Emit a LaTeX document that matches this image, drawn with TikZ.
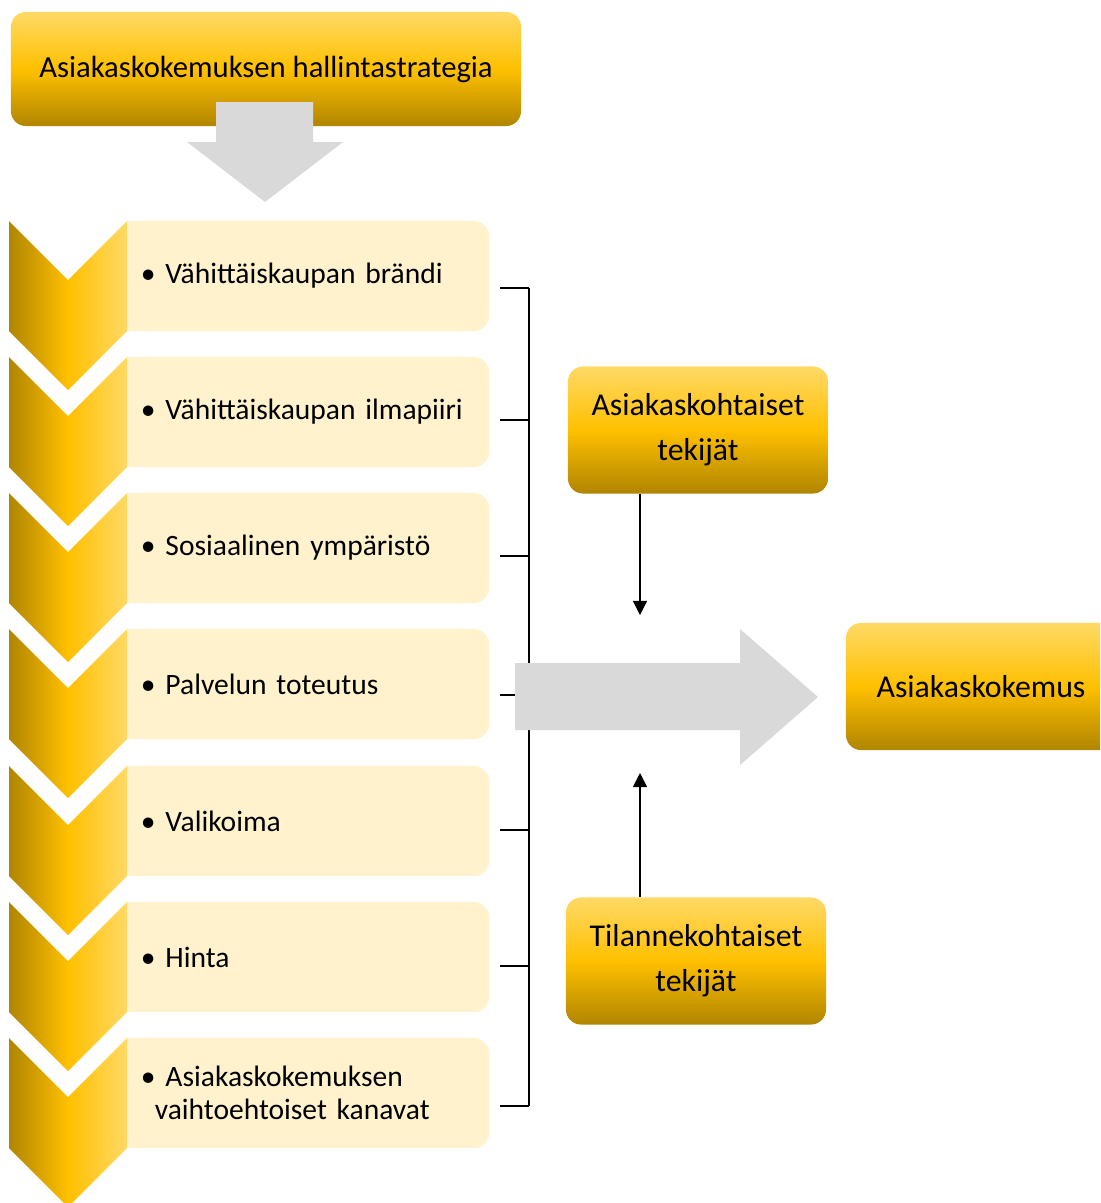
\documentclass[tikz,border=0pt]{standalone}
\usepackage{fontspec}
\setmainfont{Carlito}
\usetikzlibrary{arrows.meta}
\definecolor{goldmid}{HTML}{FFC000}
\definecolor{goldtop}{HTML}{FFD966}
\definecolor{goldbot}{HTML}{B08500}
\definecolor{itemfill}{HTML}{FFF2CC}
\definecolor{arrowgray}{HTML}{D9D9D9}

\begin{document}
\begin{tikzpicture}[x=0.025cm,y=-0.025cm,
  every node/.style={font=\fontsize{21}{23}\selectfont},
  goldbox/.style={rounded corners=0.375cm,top color=goldtop,bottom color=goldbot,middle color=goldmid,
    minimum width=6.5cm,minimum height=3.175cm,align=center,font=\fontsize{22.6}{32}\selectfont},
  itembox/.style={rounded corners=0.375cm,fill=itemfill,minimum width=9.05cm,minimum height=2.75cm,
    text width=8.35cm,inner xsep=0.35cm,align=left},
  conn/.style={line width=1pt},
  tip/.style={line width=0.8pt,-{Triangle[width=10pt,length=10pt]}}]
  \useasboundingbox (0,0) rectangle (1100,1203);
  \clip (0,0) rectangle (1100,1203);

  \node[goldbox,minimum width=12.75cm,minimum height=2.85cm,font=\fontsize{21.8}{26}\selectfont] (strat) at (266,69) {Asiakaskokemuksen hallintastrategia};
  \fill[arrowgray] (216,102) -- (313,102) -- (313,142) -- (343,142) -- (265,202) -- (187,142) -- (216,142) -- cycle;

  \foreach \k/\y/\txt in {1/221/{Vähittäiskaupan brändi},2/357/{Vähittäiskaupan ilmapiiri},
      3/493/{Sosiaalinen ympäristö},4/629/{Palvelun toteutus},5/766/{Valikoima},6/902/{Hinta},
      7/1038/{Asiakaskokemuksen\\\hspace*{0.47em}vaihtoehtoiset kanavat}} {
    \fill[itemfill] (127,\y) rectangle (160,\y+110);
    \node[itembox] (i\k) at (308,\y+55) {• \txt};
    \shade[left color=goldbot,right color=goldtop,middle color=goldmid]
      (9,\y) -- (68,\y+59) -- (127,\y) -- (127,\y+110) -- (68,\y+169) -- (9,\y+110) -- cycle;
  }

  \foreach \k/\y in {1/288,2/420,3/556,4/695,5/830,6/966,7/1106} {
    \coordinate (t\k) at (500,\y);
    \coordinate (b\k) at (529,\y);
    \draw[conn] (t\k) -- (b\k);
  }
  \draw[conn] (b1) -- (b7);

  \fill[arrowgray] (515,663) -- (740,663) -- (740,629) -- (818,697) -- (740,765) -- (740,730) -- (515,730) -- cycle;

  \node[goldbox] (asiak) at (698,430) {Asiakaskohtaiset\\tekijät};
  \node[goldbox] (tilanne) at (696,961) {Tilannekohtaiset\\tekijät};
  \node[goldbox,minimum width=6.75cm] (kokemus) at (981,686.5) {Asiakaskokemus};

  \coordinate (a1) at (640,615);
  \coordinate (a2) at (640,773);
  \draw[tip] (asiak.south -| a1) -- (a1);
  \draw[tip] (tilanne.north -| a2) -- (a2);
\end{tikzpicture}
\end{document}
